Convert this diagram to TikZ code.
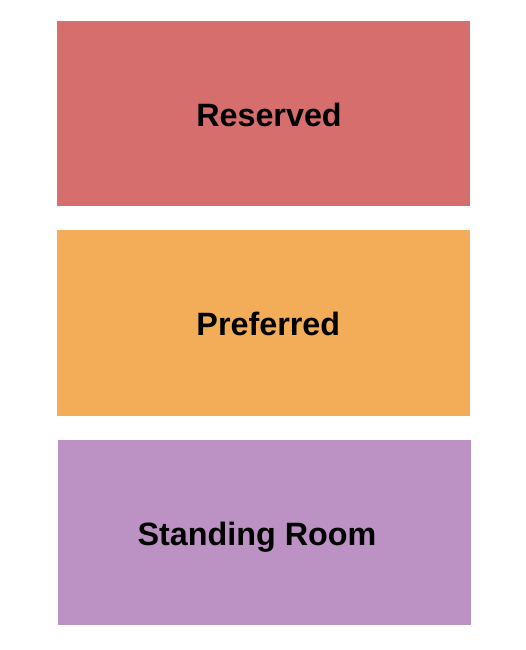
\documentclass[tikz,border=0pt]{standalone}
\usepackage{fontspec}
\setmainfont{Liberation Sans}
\definecolor{resv}{HTML}{D76E6E}
\definecolor{pref}{HTML}{F3AD58}
\definecolor{stand}{HTML}{BC91C3}
\begin{document}
\begin{tikzpicture}[x=1pt,y=-1pt]
\tikzset{
  section/.style={draw=none},
  lbl/.style={anchor=base,inner sep=0pt,font=\fontsize{32.3}{36}\selectfont\bfseries,text=black}
}
\useasboundingbox (0,0) rectangle (525,650);
\fill[white] (0,0) rectangle (525,650);
\fill[resv] (57,21) rectangle (470,206);
\fill[pref] (57,230) rectangle (470,416);
\fill[stand] (58,440) rectangle (471,625);
\node[lbl] (reserved) at (269,126.5) {Reserved};
\node[lbl] (preferred) at (268.3,335) {Preferred};
\node[lbl] (standing) at (257,545) {Standing Room};
\end{tikzpicture}
\end{document}
